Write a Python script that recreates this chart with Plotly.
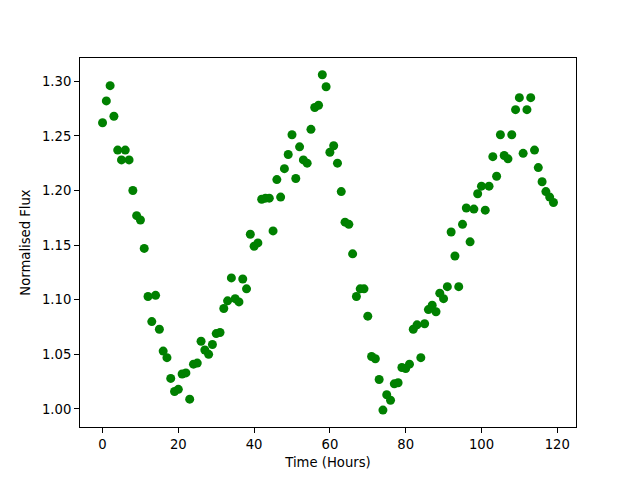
import plotly.graph_objects as go

hours = list(range(120))
flux = [
    1.262, 1.282, 1.296, 1.268, 1.237, 1.228, 1.237, 1.228, 1.200, 1.177,
    1.173, 1.147, 1.103, 1.080, 1.104, 1.073, 1.053, 1.047, 1.028, 1.016,
    1.018, 1.032, 1.033, 1.009, 1.041, 1.042, 1.062, 1.054, 1.050, 1.059,
    1.069, 1.070, 1.092, 1.099, 1.120, 1.101, 1.098, 1.119, 1.110, 1.160,
    1.149, 1.152, 1.192, 1.193, 1.193, 1.163, 1.210, 1.194, 1.220, 1.233,
    1.251, 1.211, 1.240, 1.228, 1.225, 1.256, 1.276, 1.278, 1.306, 1.295,
    1.235, 1.241, 1.225, 1.199, 1.171, 1.169, 1.142, 1.103, 1.110, 1.110,
    1.085, 1.048, 1.046, 1.027, 0.999, 1.013, 1.008, 1.023, 1.024, 1.038,
    1.037, 1.041, 1.073, 1.077, 1.047, 1.078, 1.091, 1.095, 1.089, 1.106,
    1.101, 1.112, 1.162, 1.140, 1.112, 1.169, 1.184, 1.153, 1.183, 1.197,
    1.204, 1.182, 1.204, 1.231, 1.213, 1.251, 1.232, 1.229, 1.251, 1.274,
    1.285, 1.234, 1.274, 1.285, 1.237, 1.221, 1.208, 1.199, 1.194, 1.189,
]
x_ticks = [0, 20, 40, 60, 80, 100, 120]
y_ticks = [1.00, 1.05, 1.10, 1.15, 1.20, 1.25, 1.30]

fig = go.Figure(go.Scatter(
    x=hours, y=flux, mode="markers",
    marker=dict(color="#008000", size=9, line=dict(width=0)),
))

font = dict(family="DejaVu Sans", size=13.2, color="black")
axis_common = dict(
    showgrid=False, zeroline=False, showline=True, linecolor="black",
    linewidth=1, mirror=True, ticks="outside", ticklen=5, tickwidth=1,
    tickcolor="black", tickfont=font,
)
fig.update_layout(
    width=640, height=480,
    margin=dict(l=72, r=72, t=50, b=61),
    plot_bgcolor="white", paper_bgcolor="white",
    showlegend=False,
    font=font,
    xaxis=dict(range=[-5.95, 124.95], tickvals=x_ticks,
               title=dict(text="Time (Hours)", font=font, standoff=6),
               **axis_common),
    yaxis=dict(range=[0.9835, 1.3213], tickvals=y_ticks,
               tickformat=".2f",
               title=dict(text="Normalised Flux", font=font, standoff=8),
               **axis_common),
)
fig.write_html("out.html")
